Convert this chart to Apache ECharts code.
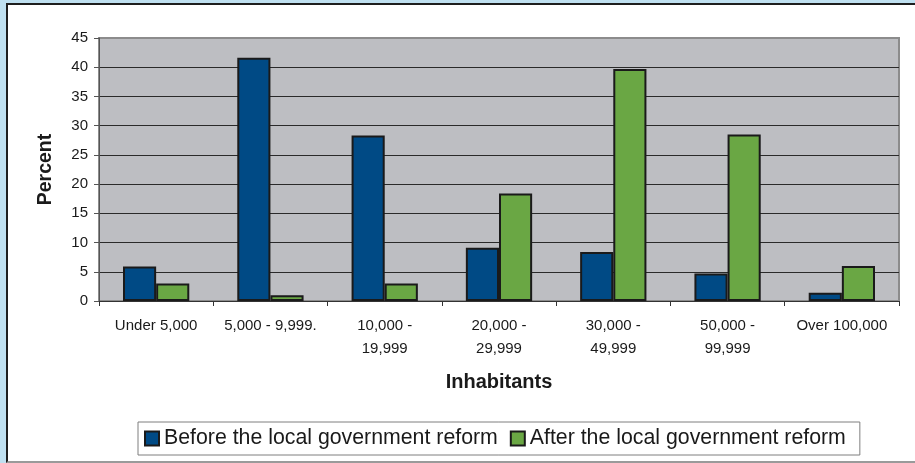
<!DOCTYPE html>
<html><head><meta charset="utf-8">
<script src="https://cdn.jsdelivr.net/npm/echarts@6/dist/echarts.min.js"></script>
<style>
html,body{margin:0;padding:0;background:#fff;}
#bg{position:absolute;left:0;top:0;width:915px;height:463px;background:#bfe0f0;}
#frame{position:absolute;left:6px;top:3px;width:909px;height:460px;background:#fff;border-left:2px solid #1e1e1e;border-top:2px solid #1e1e1e;border-bottom:2px solid #9a9a9a;box-sizing:border-box;}
#chart{position:absolute;left:0;top:0;width:915px;height:463px;}
</style></head>
<body>
<div id="bg"></div><div id="frame"></div>
<div id="chart"></div>
<script>
const categories = ["Under 5,000", "5,000 - 9,999.", "10,000 -\n19,999", "20,000 -\n29,999", "30,000 -\n49,999", "50,000 -\n99,999", "Over 100,000"];
const beforeReform = [5.9, 41.6, 28.3, 9.1, 8.4, 4.7, 1.4];
const afterReform = [3.0, 1.0, 3.0, 18.4, 39.7, 28.5, 6.0];
const seriesNames = ["Before the local government reform", "After the local government reform"];
const yTicks = {min: 0, max: 45, interval: 5};

const chart = echarts.init(document.getElementById('chart'), null, {renderer: 'canvas'});
const font = 'Arial, "Liberation Sans", sans-serif';
chart.setOption({
  backgroundColor: 'transparent',
  animation: false,
  textStyle: {fontFamily: font},
  grid: {left: 99, top: 38, right: 16, bottom: 162, show: true, backgroundColor: '#bdbec2', borderColor: '#8c8c8c', borderWidth: 2},
  legend: {
    left: 138, top: 422,
    padding: [6, 14, 6, 6],
    borderColor: '#7f7f7f', borderWidth: 1, backgroundColor: '#fff',
    icon: 'rect', itemWidth: 14, itemHeight: 14, itemGap: 12,
    textStyle: {fontFamily: font, fontSize: 21.3, color: '#1a1a1a', padding: [3, 0, 0, 0]},
    data: seriesNames
  },
  xAxis: {
    type: 'category', data: categories,
    name: 'Inhabitants', nameLocation: 'middle', nameGap: 71,
    nameTextStyle: {fontFamily: font, fontSize: 20, fontWeight: 'bold', color: '#1a1a1a'},
    axisLine: {show: true, lineStyle: {color: '#333', width: 1}},
    axisTick: {show: true, length: 5, lineStyle: {color: '#333'}},
    axisLabel: {fontFamily: font, fontSize: 15, color: '#1a1a1a', margin: 13, lineHeight: 23, interval: 0}
  },
  yAxis: {
    type: 'value', min: yTicks.min, max: yTicks.max, interval: yTicks.interval,
    name: 'Percent', nameLocation: 'middle', nameGap: 43, nameRotate: 90,
    nameTextStyle: {fontFamily: font, fontSize: 19.5, fontWeight: 'bold', color: '#1a1a1a'},
    axisLine: {show: true, lineStyle: {color: '#555', width: 1}},
    axisTick: {show: true, length: 5, lineStyle: {color: '#555'}},
    axisLabel: {fontFamily: font, fontSize: 15, color: '#1a1a1a', margin: 11},
    splitLine: {show: true, showMaxLine: false, lineStyle: {color: '#2a2a2a', width: 1}}
  },
  series: [
    {name: seriesNames[0], type: 'bar', data: beforeReform, barGap: '0%', barCategoryGap: '42%',
     itemStyle: {color: '#004a85', borderColor: '#1a1a1a', borderWidth: 2}},
    {name: seriesNames[1], type: 'bar', data: afterReform, barGap: '0%', barCategoryGap: '42%',
     itemStyle: {color: '#6aa744', borderColor: '#1a1a1a', borderWidth: 2}}
  ]
});
</script>
</body></html>
